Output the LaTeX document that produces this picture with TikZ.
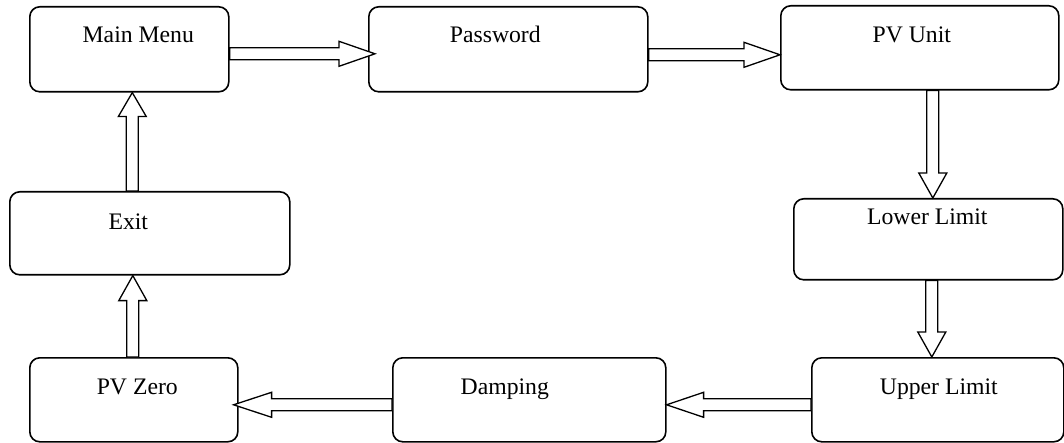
\documentclass[tikz,border=0pt]{standalone}
\usepackage{fontspec}
\setmainfont{Liberation Serif}
\usetikzlibrary{calc}
\tikzset{
  box/.style={draw, line width=1.6pt, rounded corners=10pt, inner sep=0pt, anchor=north west},
  lbl/.style={anchor=base, inner sep=0pt, font=\fontsize{23.7}{28}\selectfont},
  barr/.style={draw, line width=1.3pt, fill=white, line join=miter}
}
\newcommand\barrow[4]{% #1 start, #2 tip, #3 head length, #4 head half width
  \coordinate (bS) at (#1);
  \coordinate (bE) at (#2);
  \coordinate (bB) at ($(bE)!#3!(bS)$);
  \draw[barr] ($(bS)!6pt!90:(bE)$) -- ($(bB)!6pt!-90:(bS)$) -- ($(bB)!#4!-90:(bS)$)
     -- (bE) -- ($(bB)!#4!90:(bS)$) -- ($(bB)!6pt!90:(bS)$) -- ($(bS)!6pt!-90:(bE)$) -- cycle;
}
\begin{document}
\begin{tikzpicture}[x=1pt,y=-1pt]
\useasboundingbox (0,0) rectangle (1064,443);
% boxes
\node[box, minimum width=199pt, minimum height=85pt] (mm) at (29,6) {};
\node[box, minimum width=279pt, minimum height=85pt] (pw) at (368,6) {};
\node[box, minimum width=278pt, minimum height=84pt] (pvu) at (780,5) {};
\node[box, minimum width=269pt, minimum height=81pt] (ll) at (793,198) {};
\node[box, minimum width=252pt, minimum height=84pt] (ul) at (811,357) {};
\node[box, minimum width=273pt, minimum height=84pt] (dmp) at (392,357) {};
\node[box, minimum width=208pt, minimum height=84pt] (pvz) at (29,357) {};
\node[box, minimum width=280pt, minimum height=83pt] (ex) at (9,191) {};
% texts
\node[lbl] (mmt) at ($(mm.north)+(9,37)$) {Main Menu};
\node[lbl] (pwt) at ($(pw.north)+(-13,37)$) {Password};
\node[lbl] (pvut) at ($(pvu.north)+(-8,38)$) {PV Unit};
\node[lbl] (llt) at ($(ll.north)+(-1,27)$) {Lower Limit};
\node[lbl] (ult) at ($(ul.north)+(1,37)$) {Upper Limit};
\node[lbl] (dmpt) at ($(dmp.north)+(-24.5,37)$) {Damping};
\node[lbl] (ext) at ($(ex.north)+(-21.5,39)$) {Exit};
\node[lbl] (pvzt) at ($(pvz.north)+(3.5,37)$) {PV Zero};
% arrows
\barrow{$(mm.east)+(0,4.5)$}{$(mm.east -| pw.west)+(7,4.5)$}{36pt}{12.5pt}
\barrow{$(pw.east)+(0,5.5)$}{$(pw.east -| pvu.west)+(0,5.5)$}{36pt}{12.5pt}
\barrow{$(pvu.south)+(13,0)$}{$(pvu.south |- ll.north)+(13,0)$}{25pt}{14pt}
\barrow{$(ll.south)+(3.5,0)$}{$(ll.south |- ul.north)+(3.5,0)$}{25pt}{14pt}
\barrow{$(ul.west)+(0,5)$}{$(ul.west -| dmp.east)+(0,5)$}{37pt}{12.5pt}
\barrow{$(dmp.west)+(0,5)$}{$(dmp.west -| pvz.east)+(-5,5)$}{38pt}{12.5pt}
\barrow{$(pvz.north)+(-1,0)$}{$(pvz.north |- ex.south)+(-1,0)$}{25pt}{14pt}
\barrow{$(ex.north)+(-17.5,0)$}{$(ex.north |- mm.south)+(-17.5,0)$}{24pt}{14pt}
\end{tikzpicture}
\end{document}
